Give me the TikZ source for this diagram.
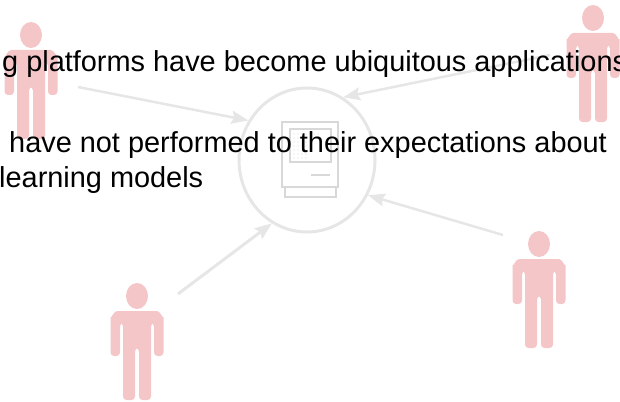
\documentclass[tikz,border=0pt]{standalone}
\usepackage{fontspec}
\setmainfont{Liberation Sans}
\usetikzlibrary{shapes.geometric,arrows.meta}
\definecolor{pink}{HTML}{F4C6C8}
\definecolor{pale}{HTML}{E6E6E6}
\definecolor{macgrey}{HTML}{D8D8D8}
\tikzset{
  person/.pic={
    \fill[pink] (0,0) ellipse[x radius=11,y radius=13];
    \fill[pink,rounded corners=3.5pt] (-2,104) -- (-14,104) -- (-14,27) -- (-17,27) -- (-17,60) -- (-26.5,60) -- (-26.5,22) [sharp corners] -- (-26.5,21) to[out=-90,in=180] (-20,15) -- (20,15) to[out=0,in=-90] (26.5,21) [rounded corners=3.5pt] -- (26.5,60) -- (17,60) -- (17,27) -- (14,27) -- (14,104) -- (2,104) -- (2,52) -- (-2,52) -- cycle;
  },
  link/.style={draw=pale,line width=2.5pt,-{Stealth[length=17pt,width=13pt,inset=2.5pt]}},
  hubring/.style={ellipse,draw=pale,line width=3pt,minimum width=136pt,minimum height=144pt,inner sep=0pt},
  macpart/.style={draw=macgrey,line width=1.7pt},
  copytext/.style={anchor=base west,inner sep=0pt,font=\fontsize{28.9}{34}\selectfont},
}
\begin{document}
\begin{tikzpicture}[x=1pt,y=-1pt]
\useasboundingbox (0,0) rectangle (620,401);
\clip (0,0) rectangle (620,401);
\pic at (31,35) {person};
\pic at (593,18) {person};
\pic at (539,244) {person};
\pic at (137,296) {person};
\node[hubring] (hub) at (307,160) {};
\coordinate (fromTL) at (78,87);
\coordinate (fromTR) at (550,55);
\coordinate (fromBL) at (178,294);
\coordinate (fromBR) at (503,235);
\draw[link] (fromTL) -- (hub.146);
\draw[link] (fromTR) -- (hub.60);
\draw[link,line width=3pt] (fromBL) -- (hub.241);
\draw[link] (fromBR) -- (hub.-30);
\draw[macpart] (282,122) rectangle (338,187);
\draw[macpart] (285,187) rectangle (336,197);
\draw[macpart] (290,129) rectangle (331,162);
\draw[macpart] (311,175) -- (330,175);
\foreach \x in {294,298,302,306} \foreach \y in {134,138,142,146,150,154,158} \fill[macgrey] (\x,\y) circle[radius=0.6];
\foreach \x in {310,314,318} \fill[macgrey] (\x,134) circle[radius=0.6];
\node[copytext] (line1) at (2,72) {g platforms have become ubiquitous applications};
\node[copytext] (line2) at (9,152) {have not performed to their expectations about};
\node[copytext] (line3) at (-1,187) {learning models};
\end{tikzpicture}
\end{document}
